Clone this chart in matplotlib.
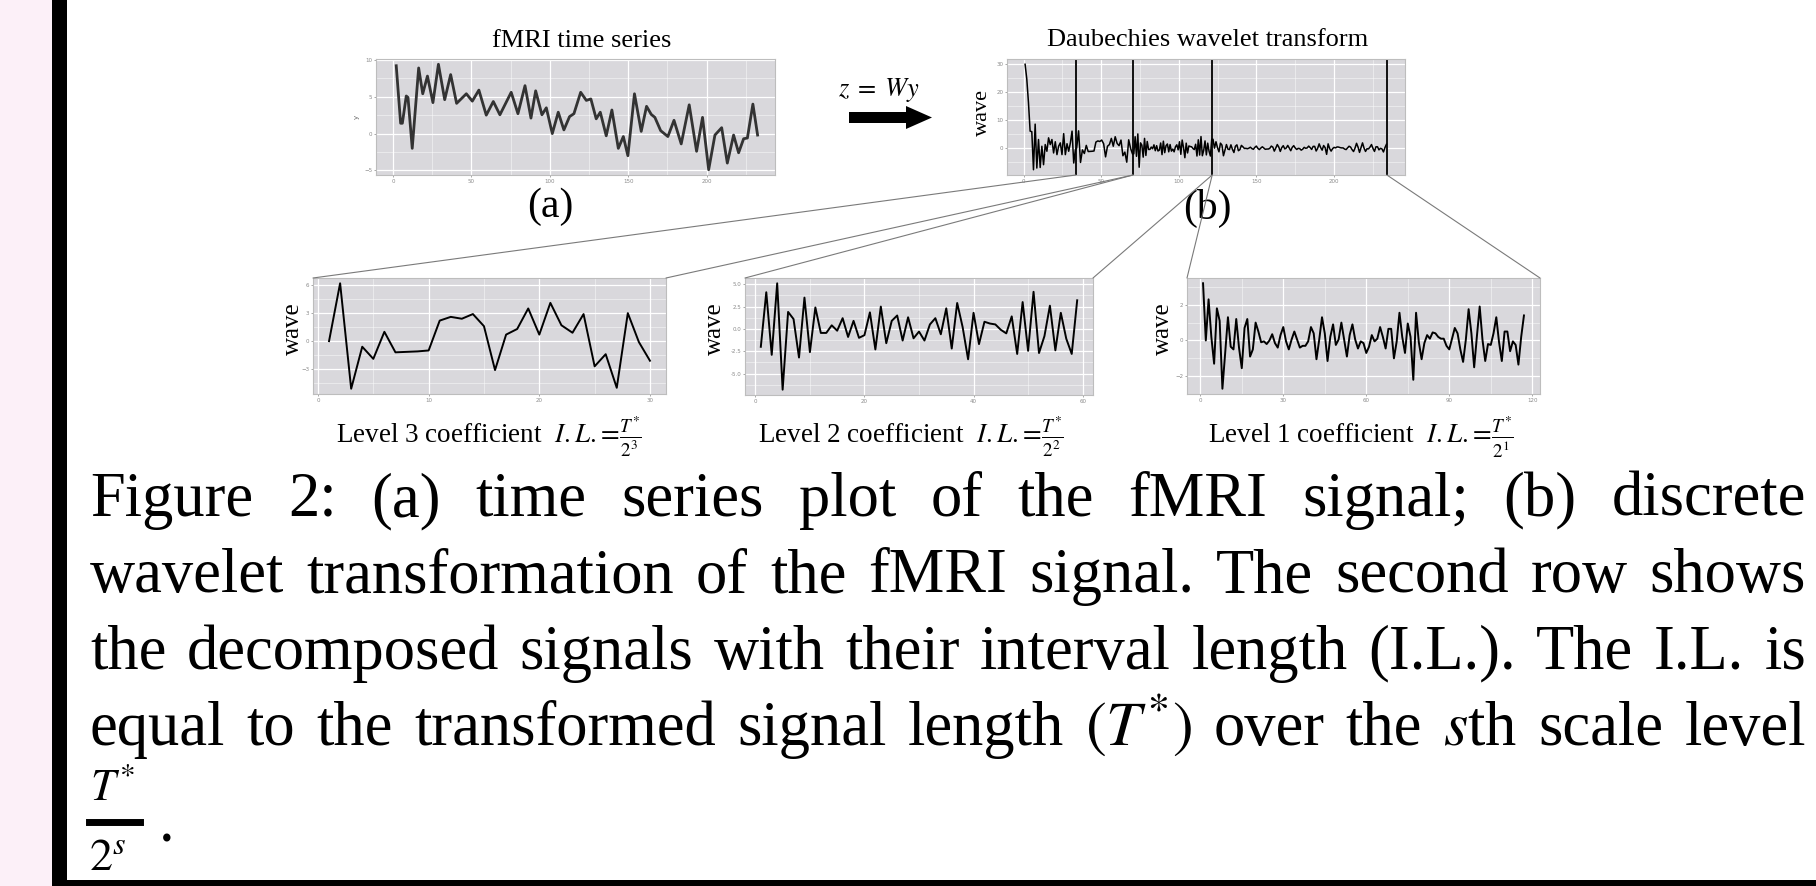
import numpy as np
import matplotlib
matplotlib.use('Agg')
import matplotlib.pyplot as plt
from matplotlib.patches import ConnectionPatch, Polygon, Rectangle
from matplotlib.lines import Line2D
from matplotlib.ticker import AutoMinorLocator, FixedLocator

plt.rcParams['mathtext.fontset'] = 'stix'
SERIF = 'Liberation Serif'

W, H = 1816, 886

# fMRI signal (turning points)
fmri_t = [2.1, 4.9, 6, 8.5, 9.6, 12.3, 16.4, 19, 22, 25.5, 29, 33, 36.8, 40.6, 46.8,
          50.6, 54.8, 59.5, 64, 68.2, 75.4, 79.7, 84.2, 88, 91, 95, 97.8, 101.6, 105.4, 109,
          112.6, 115.4, 119.7, 123.3, 126.2, 129.6, 132.2, 136, 139.6, 143.7, 146.9, 149.8,
          154, 158.3, 161.7, 164.7, 167, 170.7, 175.3, 179.2, 183.8, 188.9, 193.6, 197.4,
          201.3, 205.3, 209.6, 213.2, 217.2, 220.4, 223.6, 226, 229.5, 232.5]
fmri_y = [9.2, 1.4, 1.4, 5.1, 4.9, -2.0, 8.9, 5.4, 7.8, 4.2, 9.4, 4.6, 8.0, 4.1, 5.4,
          4.4, 5.9, 2.5, 4.35, 2.55, 5.6, 2.7, 6.5, 2.1, 5.8, 2.55, 3.5, 0.0, 2.9, 0.5,
          2.3, 2.7, 5.6, 4.5, 4.7, 2.0, 2.9, -0.3, 3.2, -2.0, -0.4, -3.0,
          5.4, 0.3, 3.7, 2.6, 2.2, 0.4, -0.4, 1.8, -1.4, 3.9, -2.4, 2.2,
          -4.9, -0.2, 0.8, -4.0, -0.2, -2.6, -0.7, -0.6, 4.0, -0.2]

# coarse part of the transform (before the first divider)
head = [30, 24.8, 16.4, 6.1, 5.9, -7.7, 8.6, -7.1, 3.1, -6.9, 0.7, -5.9, 1.3, -1.1, 3.7,
        1.3, 3.1, -1.7, 2.3, -2.3, 0.7, 1.9, -2.3, 5.2, -2.3, 1.6, -1.1, 1.9, 6.1, -5.3, -0.5]

level3 = [0.0, 6.2, -5.1, -0.6, -1.9, 1.0, -1.2, -1.15, -1.1, -1.0,
          2.2, 2.6, 2.4, 2.9, 1.6, -3.1, 0.7, 1.3, 3.5, 0.7,
          4.1, 1.7, 0.9, 2.9, -2.7, -1.4, -5.0, 3.0, -0.1, -2.1]

level2 = [-2.0, 4.1, -2.9, 5.1, -6.8, 1.9, 1.1, -3.2, 3.5, -2.6,
          2.4, -0.45, -0.45, 0.4, -0.2, 1.2, -0.9, 0.9, -1.0, -0.7,
          1.85, -2.3, 2.5, -1.6, 0.9, 1.5, -1.3, 1.3, -1.05, -0.3,
          -1.3, 0.5, 1.2, -0.6, 2.3, -2.2, 2.9, 0.2, -3.4, 1.8,
          -1.7, 0.8, 0.6, 0.5, -0.1, -0.5, 1.4, -2.8, 3.0, -2.45,
          4.15, -2.7, -0.8, 2.6, -2.4, 1.8, -1.1, -2.8, 3.2]

level1 = [3.2, 0.0, 2.3, 0.2, -1.3, 1.8, 1.1, -2.7, -0.7, 1.3,
          -0.35, -0.5, 1.2, -0.4, -1.55, 0.7, 1.2, -0.9, -0.5, 1.0,
          0.5, -0.1, -0.05, -0.2, 0.0, 0.35, -0.15, -0.4, 0.3, 0.75,
          -0.05, -0.5, 0.05, 0.5, 0.05, -0.4, -0.3, -0.3, -0.05, 0.75,
          0.4, -1.05, 0.05, 1.3, 0.4, -1.15, 0.2, 0.9, -0.25, 0.05,
          1.0, 0.05, -0.9, 0.3, 0.9, 0.05, -0.45, -0.05, -0.15, -0.7,
          -0.35, 0.3, -0.05, 0.1, 0.75, 0.2, -0.45, 0.65, 0.65, -1.0,
          -0.05, 1.55, 0.2, -0.7, 0.95, 0.2, -2.2, 1.55, -0.1, -1.05,
          -0.15, 0.3, 0.1, 0.45, 0.4, 0.2, 0.1, 0.1, -0.3, -0.5,
          0.1, 0.7, 0.4, -0.5, -1.2, 0.05, 1.75, 0.4, -1.5, 0.25,
          1.9, 0.05, -1.15, -0.2, -0.25, 0.4, 1.3, -0.1, -1.15, 0.5,
          0.5, -0.6, -0.05, -0.25, -1.35, 0.2, 1.4]

# dividers drawn on the transform panel
bounds = [33.7, 70.5, 121.5, 234]

caption_lines = [
    "Figure 2: (a) time series plot of the fMRI signal; (b) discrete",
    "wavelet transformation of the fMRI signal. The second row shows",
    "the decomposed signals with their interval length (I.L.). The I.L. is",
    "equal to the transformed signal length $(T^{*})$ over the $s$th scale level",
]


def rect(l, t, r, b):
    return [l / W, 1 - b / H, (r - l) / W, (b - t) / H]


def gg_limits(lo, hi):
    pad = 0.05 * (hi - lo)
    return lo - pad, hi + pad


def gg_axes(ax, xticks, yticks, xlim, ylim, yfmt=None):
    ax.set_facecolor('#d9d8dc')
    ax.set_xlim(*xlim)
    ax.set_ylim(*ylim)
    ax.xaxis.set_major_locator(FixedLocator(xticks))
    ax.yaxis.set_major_locator(FixedLocator(yticks))
    ax.xaxis.set_minor_locator(AutoMinorLocator(2))
    ax.yaxis.set_minor_locator(AutoMinorLocator(2))
    if yfmt:
        ax.set_yticklabels([yfmt.format(v) for v in yticks])
    ax.grid(which='major', color='white', lw=0.9)
    ax.grid(which='minor', color='white', lw=0.4, alpha=0.8)
    ax.set_axisbelow(True)
    ax.tick_params(which='major', length=1.5, width=0.6, color='#999999',
                   labelsize=4, labelcolor='#8a8a8a', pad=1.2)
    ax.tick_params(which='minor', length=0)
    for s in ax.spines.values():
        s.set_color('#bdbdbd')
        s.set_linewidth(0.8)


fig = plt.figure(figsize=(W / 100, H / 100), dpi=100)
fig.patch.set_facecolor('white')

# slide frame on the left and bottom
fig.add_artist(Rectangle((0, 0), 52 / W, 1, transform=fig.transFigure,
                         color='#fcf0f8', lw=0))
fig.add_artist(Rectangle((52 / W, 0), 15 / W, 1, transform=fig.transFigure,
                         color='black', lw=0))
fig.add_artist(Rectangle((52 / W, 0), 1, 6 / H, transform=fig.transFigure,
                         color='black', lw=0))

# (a) fMRI time series
ax_a = fig.add_axes(rect(376, 59, 775, 175))
ax_a.plot(fmri_t, fmri_y, color='#333333', lw=2.0, solid_joinstyle='round')
gg_axes(ax_a, [0, 50, 100, 150, 200], [-5, 0, 5, 10],
        (-10.8, 243.6), gg_limits(min(fmri_y), max(fmri_y)))
ax_a.set_ylabel('y', fontsize=5, color='#666666', labelpad=3)

# (b) wavelet transform
segments = [head, level3, level2, level1]
starts = [1] + [b + 0.5 for b in bounds[:-1]]
ax_b = fig.add_axes(rect(1007, 59, 1405, 175))
xs, ys = [], []
for seg, lo, hi in zip(segments, starts, bounds):
    xs.extend(np.linspace(lo, hi - 0.3, len(seg)))
    ys.extend(seg)
ax_b.plot(xs, ys, color='black', lw=1.1)
ylim_b = gg_limits(min(ys), max(ys))
gg_axes(ax_b, [0, 50, 100, 150, 200], [0, 10, 20, 30], gg_limits(1, bounds[-1]), ylim_b)
for b in bounds:
    ax_b.axvline(b, color='black', lw=1.3)

# second row: coefficient levels
sub_specs = [
    (level3, rect(313, 278, 666, 394), [0, 10, 20, 30], [-3, 0, 3, 6], None),
    (level2, rect(745, 278, 1093, 395), [0, 20, 40, 60], [-5, -2.5, 0, 2.5, 5], '{:.1f}'),
    (level1, rect(1187, 278, 1540, 394), [0, 30, 60, 90, 120], [-2, 0, 2], None),
]
sub_axes = []
for vals, r, xt, yt, fmt in sub_specs:
    ax = fig.add_axes(r)
    n = np.arange(1, len(vals) + 1)
    ax.plot(n, vals, color='black', lw=1.4)
    gg_axes(ax, xt, yt, gg_limits(1, len(vals)), gg_limits(min(vals), max(vals)), fmt)
    sub_axes.append(ax)

# zoom lines from the dividers to the panels below
links = [(0, 0, 0), (1, 0, 1), (1, 1, 0), (2, 1, 1), (2, 2, 0), (3, 2, 1)]
for bi, ai, corner in links:
    con = ConnectionPatch(xyA=(bounds[bi], ylim_b[0]), coordsA=ax_b.transData,
                          xyB=(corner, 1), coordsB=sub_axes[ai].transAxes,
                          color='#7a7a7a', lw=0.8)
    fig.add_artist(con)

# titles and labels
fig.text(582 / W, 1 - 41 / H, 'fMRI time series', family=SERIF, fontsize=19,
         ha='center', va='center')
fig.text(1208 / W, 1 - 40 / H, 'Daubechies wavelet transform', family=SERIF, fontsize=19,
         ha='center', va='center')
fig.text(550 / W, 1 - 207 / H, '(a)', family=SERIF, fontsize=30, ha='center', va='center')
fig.text(1207 / W, 1 - 208 / H, '(b)', family=SERIF, fontsize=30, ha='center', va='center',
         zorder=0)
fig.text(982 / W, 1 - 113 / H, 'wave', family=SERIF, fontsize=16, rotation=90,
         ha='center', va='center')
for x in [293, 715, 1163]:
    fig.text(x / W, 1 - 329 / H, 'wave', family=SERIF, fontsize=18, rotation=90,
             ha='center', va='center')

fig.text(879 / W, 1 - 90 / H, r'$z\;=\;Wy$', fontsize=19, ha='center', va='center')
arrow = [(849, 112), (906, 112), (906, 106), (932, 117.5), (906, 129), (906, 123), (849, 123)]
fig.add_artist(Polygon([(x / W, 1 - y / H) for x, y in arrow], closed=True,
                       transform=fig.transFigure, color='black', lw=0))

for lvl, xc in [(3, 489), (2, 911), (1, 1361)]:
    fig.text(xc / W, 1 - 443 / H,
             'Level %d coefficient  $I.L.\\!=\\!\\frac{T^{*}}{2^{%d}}$' % (lvl, lvl),
             family=SERIF, fontsize=19.5, ha='center', va='baseline')

# justified figure caption
renderer = fig.canvas.get_renderer()
left, right = 90, 1806
for i, line in enumerate(caption_lines):
    y = 516 + i * 76.3
    words = line.split(' ')
    texts = [fig.text(0, 1 - y / H, w, family=SERIF, fontsize=45, va='baseline')
             for w in words]
    widths = [t.get_window_extent(renderer).width for t in texts]
    gap = (right - left - sum(widths)) / (len(words) - 1)
    x = left
    for t, w in zip(texts, widths):
        t.set_x(x / W)
        x += w + gap

fig.text(90 / W, 1 - 800 / H, r'$T^{*}$', fontsize=32, va='baseline')
fig.add_artist(Line2D([89 / W, 140 / W], [1 - 821.5 / H, 1 - 821.5 / H],
                      transform=fig.transFigure, color='black', lw=5))
fig.text(89 / W, 1 - 870 / H, r'$2^{s}$', fontsize=33, va='baseline')
fig.text(159 / W, 1 - 842 / H, '.', family=SERIF, fontsize=45, va='baseline')

fig.savefig('out.png', dpi=100, facecolor=fig.get_facecolor())
